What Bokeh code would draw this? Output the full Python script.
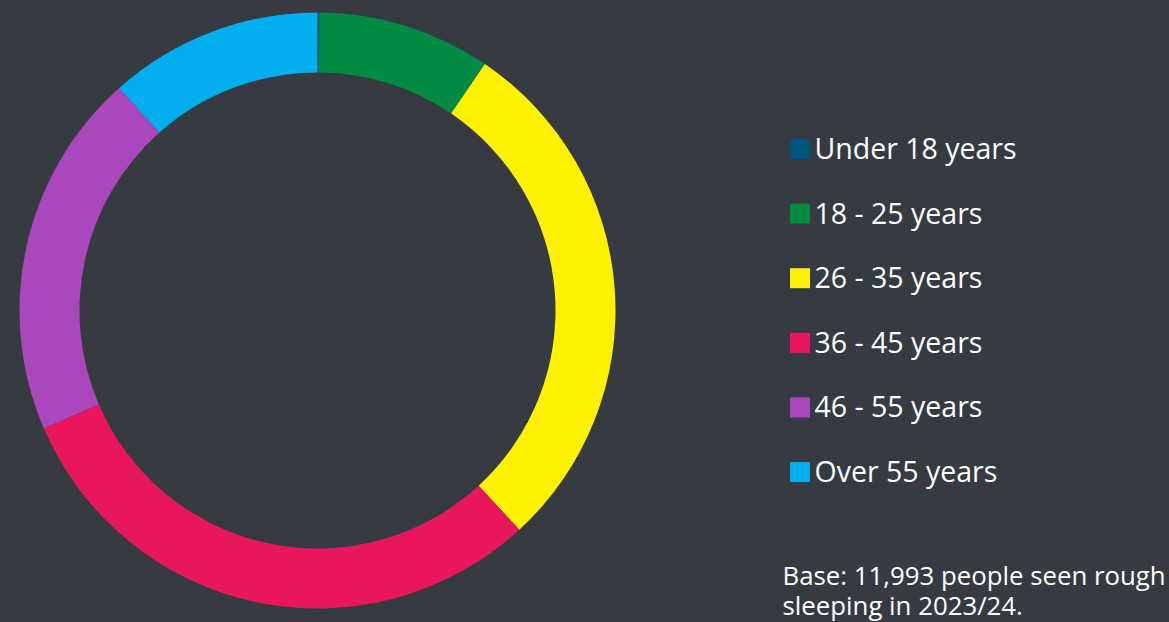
import numpy as np
from jinja2 import Template
from bokeh.plotting import figure
from bokeh.models import Range1d, ColumnDataSource
from bokeh.core.properties import value
from bokeh.embed import file_html
from bokeh.resources import INLINE

# ---- data ----
categories = ["Under 18 years", "18 - 25 years", "26 - 35 years",
              "36 - 45 years", "46 - 55 years", "Over 55 years"]
shares = [0.1, 9.4, 28.7, 30.4, 19.9, 11.6]
colors = ["#00557f", "#008a43", "#fff200", "#e8175d", "#ab47bc", "#00aeef"]
base_note = ["Base: 11,993 people seen rough", "sleeping in 2023/24."]

BG = "#353b41"
W, H = 1169, 622
FONT = "Open Sans"

p = figure(width=W, height=H, output_backend="svg", toolbar_location=None,
           x_range=Range1d(0, W), y_range=Range1d(0, H),
           min_border=0, background_fill_color=BG, border_fill_color=BG,
           outline_line_color=None)
p.axis.visible = False
p.grid.visible = False

# ---- donut ----
vals = np.array(shares, dtype=float)
frac = vals / vals.sum()
cum = np.concatenate([[0.0], np.cumsum(frac)])
start = np.pi / 2 - cum[:-1] * 2 * np.pi
end = np.pi / 2 - cum[1:] * 2 * np.pi
src = ColumnDataSource(dict(start=start, end=end, color=colors, cat=categories))
p.annular_wedge(x=317, y=312, inner_radius=238, outer_radius=298,
                inner_radius_units="screen", outer_radius_units="screen",
                start_angle="start", end_angle="end", direction="clock",
                fill_color="color", line_color=None, source=src)

# ---- legend ----
row0 = H - 148.5
step = 64.6
ys = [row0 - i * step for i in range(len(categories))]
p.rect(x=[799.5] * len(categories), y=ys, width=20, height=20,
       width_units="screen", height_units="screen",
       fill_color=colors, line_color=None)
p.text(x=[814] * len(categories), y=[y + 1 for y in ys], text=categories,
       text_font=value(FONT), text_font_size="28.5px",
       text_color="#ffffff", text_baseline="middle", text_align="left")

# ---- base note ----
p.text(x=[782, 782], y=[H - 574, H - 604], text=base_note,
       text_font=value(FONT), text_font_size="25.8px",
       text_color="#ffffff", text_baseline="alphabetic", text_align="left")

template = Template("""{% extends base %}
{% block preamble %}<style>html, body { background: #353b41; margin: 0; }</style>{% endblock %}""")

open("out.html", "w").write(file_html(p, INLINE, template=template))
